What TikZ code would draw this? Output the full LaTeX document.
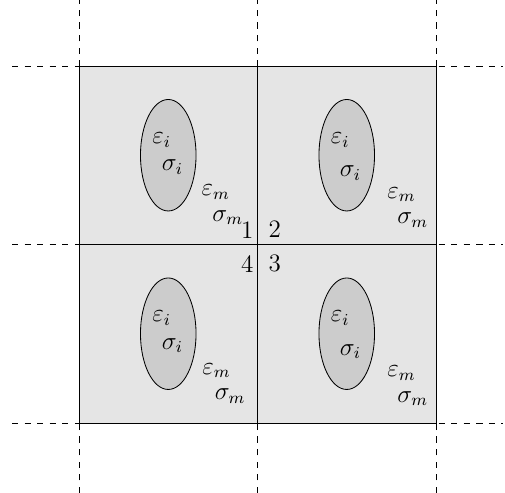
\documentclass[tikz,border=0pt]{standalone}
\usepackage{amsmath}
\usepackage{xcolor}
\usepackage{tikz}
\usetikzlibrary{positioning, shapes.geometric}

\begin{document}
\begin{tikzpicture}[font=\large,
  cell/.style={draw=black, fill=cellgray, minimum size=3cm, inner sep=0pt, outer sep=0pt, anchor=south west},
  incl/.style={draw=black, fill=inclgray, ellipse, minimum width=0.934cm, minimum height=1.874cm, inner sep=0pt},
  lbl/.style={inner sep=0.5pt},
  gridline/.style={dashed, black}]
  \definecolor{cellgray}{RGB}{229,229,229}
  \definecolor{inclgray}{RGB}{204,204,204}
  \useasboundingbox (-1.328,-1.176) rectangle (7.16,7.109);
  % four cells with an inclusion each
  \foreach \n/\x/\y/\sx/\sy/\ex/\ey/\mx/\my in {1/0/3/1.57/1.30/2.30/0.88/2.50/0.45,
      2/3/3/1.56/1.20/2.42/0.84/2.61/0.41, 3/3/0/1.56/1.20/2.42/0.84/2.61/0.41,
      4/0/0/1.57/1.30/2.31/0.88/2.54/0.45} {
    \begin{scope}[shift={(\x,\y)}]
      \node[cell] (cell\n) at (0,0) {};
      \node[incl] (incl\n) at (1.5,1.5) {};
      \node[lbl] (epsi\n) at (1.39,1.76) {$\varepsilon_i$};
      \node[lbl] (sigi\n) at (\sx,\sy) {$\sigma_i$};
      \node[lbl] (epsm\n) at (\ex,\ey) {$\varepsilon_m$};
      \node[lbl] (sigm\n) at (\mx,\my) {$\sigma_m$};
    \end{scope}
  }
  % periodic grid
  \foreach \v in {0,3,6} {
    \draw[gridline] (\v,-1.176) -- (\v,7.109);
    \draw[gridline] (-1.126,\v) -- (7.13,\v);
  }
  \coordinate (mid) at (3,3);
  \node[lbl] (num1) at (2.83,3.245) {1};
  \node[lbl] (num2) at (3.29,3.255) {2};
  \node[lbl] (num3) at (3.29,2.686) {3};
  \node[lbl] (num4) at (2.83,2.664) {4};
\end{tikzpicture}
\end{document}
